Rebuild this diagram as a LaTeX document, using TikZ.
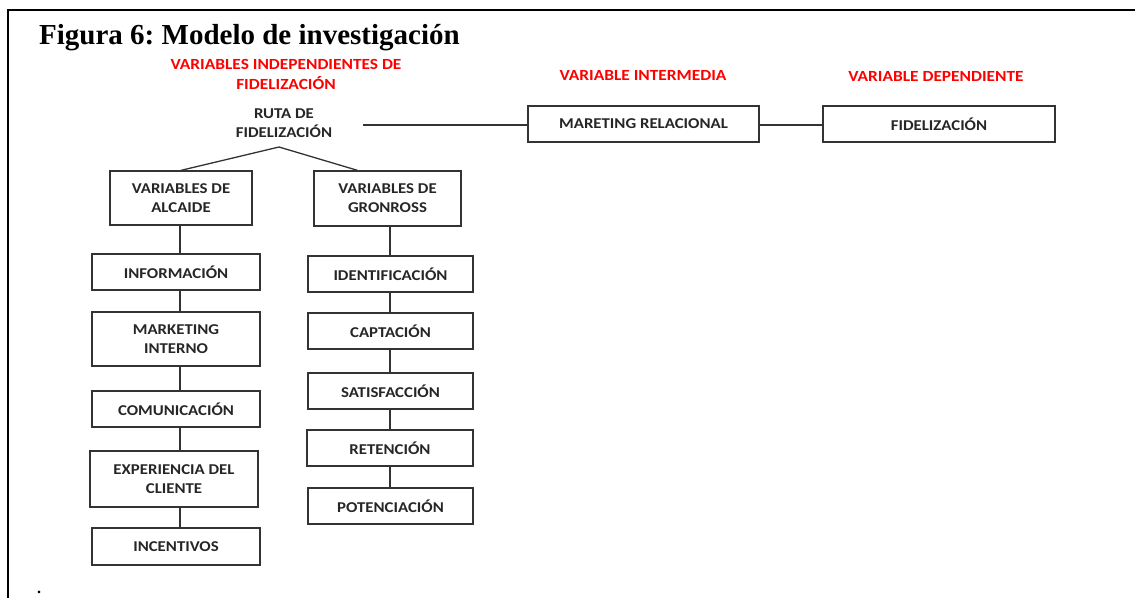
\documentclass[tikz,border=0pt]{standalone}
\usepackage{fontspec}
\setmainfont{Carlito}[FakeStretch=1.12]
\newfontfamily\titlefont{Liberation Serif}
\frenchspacing
\definecolor{boxline}{HTML}{333333}
\definecolor{boxtext}{HTML}{262626}
\definecolor{redlab}{HTML}{FF0000}
\begin{document}
\begin{tikzpicture}[x=1pt,y=-1pt,
  bx/.style={draw=boxline, line width=1.3pt, fill=white, text=boxtext,
    font=\fontsize{15}{19}\selectfont\bfseries, align=center, inner sep=2pt},
  redl/.style={text=redlab, font=\fontsize{15.5}{19}\selectfont\bfseries, align=center, inner sep=0pt},
  conn/.style={draw=boxline, line width=1.3pt},
  frame/.style={draw=black, line width=2.4pt}]
\useasboundingbox (0,0) rectangle (1135,598);
% frame
\coordinate (fa) at (8,598);
\coordinate (fb) at (8,10);
\coordinate (fc) at (1135,10);
\draw[frame] (fa) -- (fb) -- (fc);
% title
\node[anchor=base west, inner sep=0pt, font=\titlefont\fontsize{29}{34}\selectfont\bfseries] (title) at (39,44) {Figura 6: Modelo de investigación};
% red labels
\node[redl] (l1) at (286,74) {VARIABLES INDEPENDIENTES DE\\[1pt]FIDELIZACIÓN};
\node[redl] (l2) at (643,75) {VARIABLE INTERMEDIA};
\node[redl] (l3) at (936,76) {VARIABLE DEPENDIENTE};
% top row
\node[text=boxtext, font=\fontsize{15}{19}\selectfont\bfseries, align=center, inner sep=0pt] (ruta) at (284,123) {RUTA DE\\FIDELIZACIÓN};
\node[bx, minimum width=231pt, minimum height=36pt] (mr) at (643.5,124) {MARETING RELACIONAL};
\node[bx, minimum width=232pt, minimum height=36pt] (fid) at (939,124) {FIDELIZACIÓN};
\coordinate (rutaR) at (363,125);
\coordinate (fork) at (279,147);
\draw[conn] (rutaR) -- (rutaR -| mr.west);
\draw[conn] (mr.east |- 0,125) -- (fid.west |- 0,125);
% second level
\node[bx, minimum width=142pt, minimum height=54pt] (alc) at (181,198) {VARIABLES DE\\ALCAIDE};
\node[bx, minimum width=147pt, minimum height=55pt] (gro) at (387.5,198.5) {VARIABLES DE\\GRONROSS};
\draw[conn] (fork) -- (alc.north);
\draw[conn] (fork) -- ([xshift=-30pt]gro.north);
% left column
\node[bx, minimum width=168pt, minimum height=36pt] (inf) at (176,272) {INFORMACIÓN};
\node[bx, minimum width=168pt, minimum height=54pt] (mki) at (176,339) {MARKETING\\INTERNO};
\node[bx, minimum width=168pt, minimum height=36pt] (com) at (176,409) {COMUNICACIÓN};
\node[bx, minimum width=168pt, minimum height=56pt] (exp) at (174,479) {EXPERIENCIA DEL\\CLIENTE};
\node[bx, minimum width=168pt, minimum height=37pt] (inc) at (176,546.5) {INCENTIVOS};
\coordinate (lx) at (180,0);
\draw[conn] (lx |- alc.south) -- (lx |- inf.north);
\draw[conn] (lx |- inf.south) -- (lx |- mki.north);
\draw[conn] (lx |- mki.south) -- (lx |- com.north);
\draw[conn] (lx |- com.south) -- (lx |- exp.north);
\draw[conn] (lx |- exp.south) -- (lx |- inc.north);
% right column
\node[bx, minimum width=165pt, minimum height=36pt] (ide) at (390.5,274) {IDENTIFICACIÓN};
\node[bx, minimum width=165pt, minimum height=36pt] (cap) at (390.5,331) {CAPTACIÓN};
\node[bx, minimum width=165pt, minimum height=36pt] (sat) at (390.5,391) {SATISFACCIÓN};
\node[bx, minimum width=166pt, minimum height=36pt] (ret) at (390,448) {RETENCIÓN};
\node[bx, minimum width=165pt, minimum height=36pt] (pot) at (390.5,506) {POTENCIACIÓN};
\coordinate (rx) at (390,0);
\draw[conn] (rx |- gro.south) -- (rx |- ide.north);
\draw[conn] (rx |- ide.south) -- (rx |- cap.north);
\draw[conn] (rx |- cap.south) -- (rx |- sat.north);
\draw[conn] (rx |- sat.south) -- (rx |- ret.north);
\draw[conn] (rx |- ret.south) -- (rx |- pot.north);
% stray period
\node[inner sep=0pt, font=\titlefont\fontsize{16}{18}\selectfont\bfseries] (dot) at (39,592) {.};
\end{tikzpicture}
\end{document}
